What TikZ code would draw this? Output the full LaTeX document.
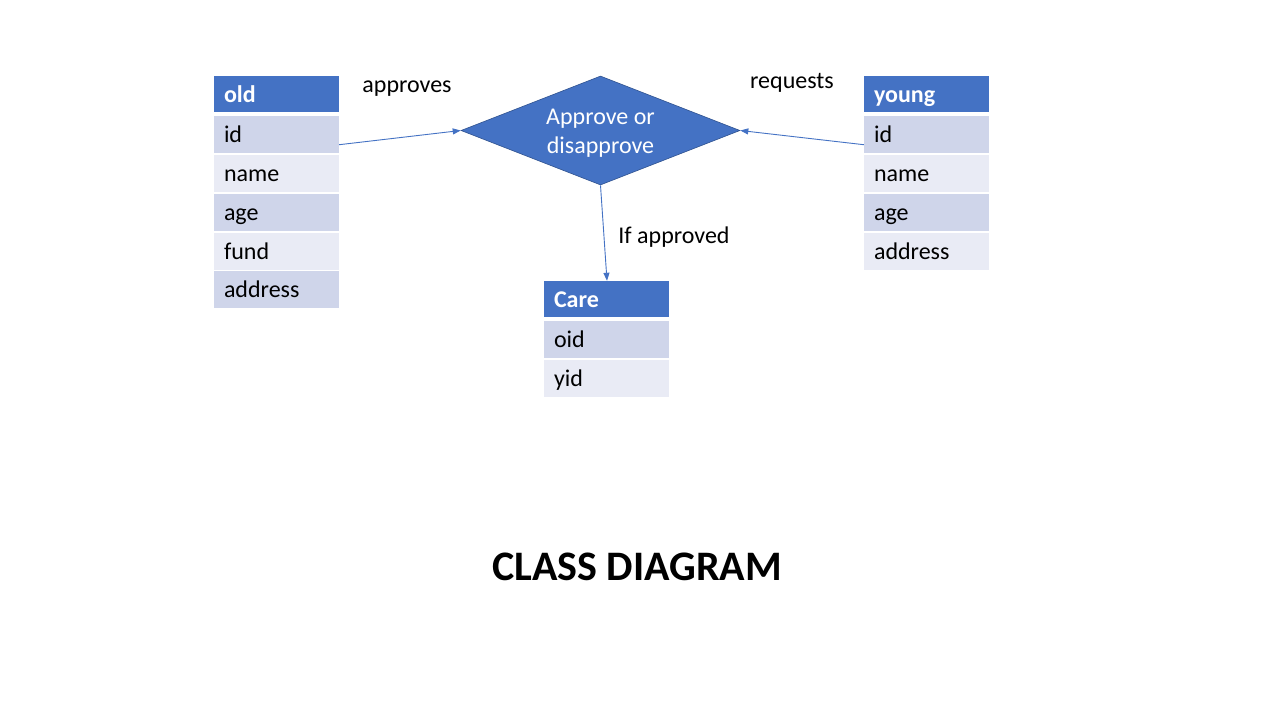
\documentclass[tikz,border=0pt]{standalone}
\usepackage{fontspec}
\setmainfont{Carlito}
\usetikzlibrary{shapes.geometric,arrows.meta,positioning}
\definecolor{hdr}{HTML}{4472C4}
\definecolor{hdrline}{HTML}{2F528F}
\definecolor{rowdark}{HTML}{CFD5EA}
\definecolor{rowlight}{HTML}{E9EBF5}
\tikzset{
  cell/.style={minimum width=125pt, text width=105pt, inner xsep=10pt, inner ysep=0pt, align=left, text height=21pt, text depth=5pt, font=\fontsize{24}{28}\selectfont},
  hdrcell/.style={cell, fill=hdr, minimum height=36pt, text=white, text height=21pt, text depth=3.5pt, font=\fontsize{24}{28}\selectfont\bfseries},
  darkcell/.style={cell, fill=rowdark, minimum height=37pt},
  lightcell/.style={cell, fill=rowlight, minimum height=37pt},
  lbl/.style={font=\fontsize{24}{28}\selectfont, inner sep=0pt, anchor=base},
  conn/.style={draw=hdr, line width=0.9pt, -{Triangle[length=8pt,width=6pt]}},
}
\begin{document}
\begin{tikzpicture}[x=1pt,y=-1pt]
\useasboundingbox[fill=white] (0,0) rectangle (1280,720);
% old
\node[hdrcell]  (oldh)  at (276.5,94) {old};
\node[darkcell] (oldid) at (276.5,134.7) {id};
\node[lightcell](oldname) at (276.5,173.5) {name};
\node[darkcell] (oldage) at (276.5,212.3) {age};
\node[lightcell](oldfund) at (276.5,251.1) {fund};
\node[darkcell] (oldaddr) at (276.5,289.9) {address};
% young
\node[hdrcell]  (yh)  at (926.5,94) {young};
\node[darkcell] (yid) at (926.5,134.7) {id};
\node[lightcell](yname) at (926.5,173.5) {name};
\node[darkcell] (yage) at (926.5,212.3) {age};
\node[lightcell](yaddr) at (926.5,251.1) {address};
% care
\node[hdrcell]  (ch)  at (606.5,299) {Care};
\node[darkcell] (coid) at (606.5,339.5) {oid};
\node[lightcell](cyid) at (606.5,378) {yid};
% diamond
\node[diamond, fill=hdr, draw=hdrline, line width=0.6pt, minimum width=279pt, minimum height=109pt, inner sep=0pt, aspect=2.56] (dia) at (600.5,130.5) {};
\node[lbl, text=white] (dtop) at (600.5,124.5) {Approve or};
\node[lbl, text=white] (dbot) at (600.5,153) {disapprove};
% connectors
\draw[conn] ([yshift=-10pt]oldid.east) -- (dia.west);
\draw[conn] ([yshift=-10pt]yid.west) -- (dia.east);
\draw[conn] (dia.south) -- ([xshift=0.5pt]ch.north);
% labels
\node[lbl] (lapp) at (407,92.5) {approves};
\node[lbl] (lreq) at (792,88.2) {requests};
\node[lbl] (lif) at (674,243.5) {If approved};
\node[font=\fontsize{42}{48}\selectfont\bfseries, inner sep=0pt] (title) at (637,567) {CLASS DIAGRAM};
\end{tikzpicture}
\end{document}
